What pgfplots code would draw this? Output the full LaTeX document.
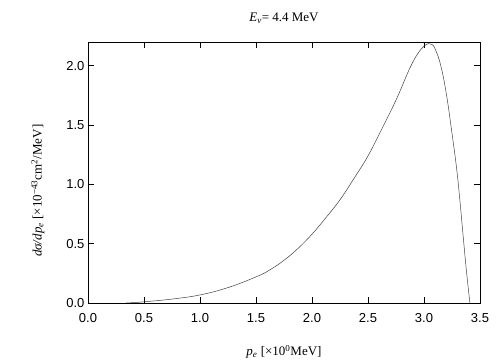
\documentclass[border=0pt]{standalone}
\usepackage{fontspec}
\setmainfont{Liberation Serif}
\newfontfamily\sansf{Liberation Sans}
\usepackage{pgfplots}
\pgfplotsset{compat=1.18}
\begin{document}
\begin{tikzpicture}
\begin{axis}[
  scale only axis,
  width=392pt, height=261pt,
  xmin=0, xmax=3.5, ymin=0, ymax=2.2,
  xtick={0,0.5,...,3.5}, ytick={0,0.5,...,2.0},
  /pgf/number format/.cd, fixed, fixed zerofill, precision=1, assume math mode=true,
  /pgfplots/.cd,
  tick label style={font=\sansf\fontsize{13}{15}\selectfont, black},
  tick align=inside,
  major tick length=6pt,
  minor tick num=0,
  axis line style={line width=0.9pt},
  every tick/.style={black, line width=0.6pt},
  xticklabel style={yshift=-7pt},
  yticklabel style={xshift=0pt},
  title={\textit{E}\textsubscript{\textit{ν}}= 4.4 MeV},
  title style={font=\fontsize{13}{15}\selectfont, at={(0.5,1)}, yshift=9pt},
  xlabel={\textit{p}\textsubscript{\textit{e}} [×10\textsuperscript{0}MeV]},
  ylabel={\textit{dσ/dp}\textsubscript{\textit{e}} [×10\textsuperscript{−43}cm\textsuperscript{2}/MeV]},
  label style={font=\fontsize{13}{15}\selectfont},
  xlabel style={at={(0.5,0)}, yshift=-39pt},
  ylabel style={at={(0,0.43)}, yshift=40pt},
]
\addplot[line width=0.5pt, color=black!75, smooth, tension=0.7] coordinates {
(0.34,0) (0.4,0.003) (0.5,0.01) (0.75,0.033) (1.0,0.068) (1.25,0.13)
(1.5,0.22) (1.625,0.28) (1.75,0.36) (1.875,0.46) (2.0,0.58) (2.125,0.72)
(2.25,0.87) (2.375,1.05) (2.5,1.24) (2.625,1.47) (2.75,1.71)
(2.85,1.93) (2.9,2.03) (2.95,2.11) (3.0,2.165) (3.04,2.186) (3.07,2.18) (3.1,2.14)
(3.15,2.0) (3.2,1.76) (3.25,1.43) (3.28,1.22) (3.3,1.06) (3.32,0.87) (3.35,0.56) (3.38,0.26) (3.41,0)
};
\end{axis}
\pgfresetboundingbox
\path (current axis.south west) ++(-88pt,-57pt) coordinate (bbA);
\path (current axis.north east) ++(24pt,42pt) coordinate (bbB);
\useasboundingbox (bbA) rectangle (bbB);
\end{tikzpicture}
\end{document}
